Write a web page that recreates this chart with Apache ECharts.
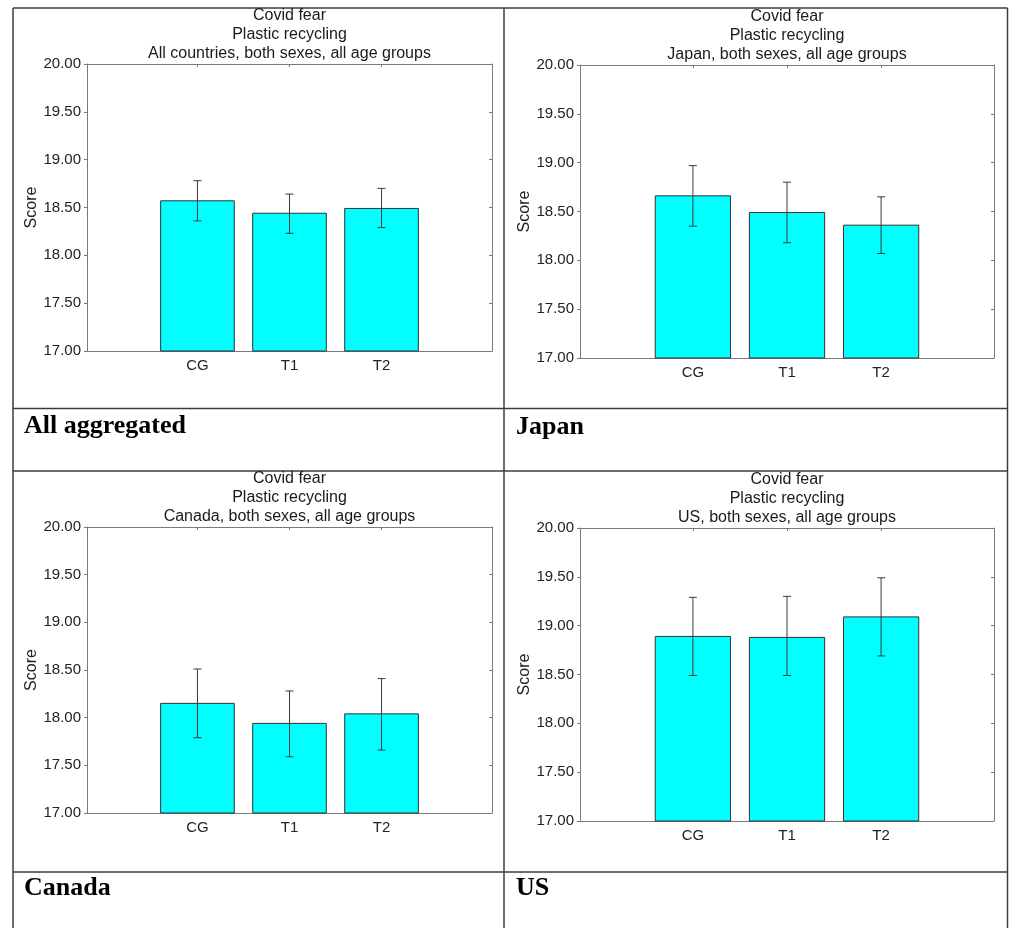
<!DOCTYPE html>
<html>
<head>
<meta charset="utf-8">
<title>Covid fear – Plastic recycling</title>
<script src="https://cdn.jsdelivr.net/npm/echarts@6/dist/echarts.min.js"></script>
<style>
  html, body { margin: 0; padding: 0; background: #ffffff; }
  #chart { width: 1011px; height: 928px; }
</style>
</head>
<body>
<div id="chart"></div>
<script>
// Treatment groups shown on every panel
const categories = ['CG', 'T1', 'T2'];

// Mean score and the ends of each error bar, per panel
const allMean  = [18.57, 18.44, 18.49];
const allLow   = [18.36, 18.23, 18.29];
const allHigh  = [18.78, 18.64, 18.70];

const japanMean = [18.66, 18.49, 18.36];
const japanLow  = [18.35, 18.18, 18.07];
const japanHigh = [18.97, 18.80, 18.65];

const canadaMean = [18.15, 17.94, 18.04];
const canadaLow  = [17.79, 17.59, 17.66];
const canadaHigh = [18.51, 18.28, 18.41];

const usMean = [18.89, 18.88, 19.09];
const usLow  = [18.49, 18.49, 18.69];
const usHigh = [19.29, 19.30, 19.49];

// Text
const titleLines = ['Covid fear', 'Plastic recycling'];
const subtitles = [
  'All countries, both sexes, all age groups',
  'Japan, both sexes, all age groups',
  'Canada, both sexes, all age groups',
  'US, both sexes, all age groups'
];
const panelNames = ['All aggregated', 'Japan', 'Canada', 'US'];
const yTicks = { min: 17, max: 20, step: 0.5 };
const yName = 'Score';

// Panel geometry (plot rectangles, title and caption anchors)
const layout = [
  { grid: { left: 87,  top: 64,  width: 405, height: 287 }, titleY: 6.5,   capX: 24,  capY: 426 },
  { grid: { left: 580, top: 65,  width: 414, height: 293 }, titleY: 7.2,   capX: 516, capY: 427 },
  { grid: { left: 87,  top: 527, width: 405, height: 286 }, titleY: 469.5, capX: 24,  capY: 888 },
  { grid: { left: 580, top: 528, width: 414, height: 293 }, titleY: 470,   capX: 516, capY: 888 }
];

const panelData = [
  [allMean, allLow, allHigh],
  [japanMean, japanLow, japanHigh],
  [canadaMean, canadaLow, canadaHigh],
  [usMean, usLow, usHigh]
];

const SANS = '"Liberation Sans", Arial, sans-serif';
const SERIF = '"Liberation Serif", "Times New Roman", serif';
const frameColor = '#7a7a7a';
const inkColor = '#222222';
const catPos = categories.map((c, i) => i + 1);

const grids = [], xAxes = [], yAxes = [], series = [], graphics = [];

layout.forEach((L, p) => {
  grids.push(Object.assign({ containLabel: false, show: false }, L.grid));

  // bottom axis with group labels
  xAxes.push({
    type: 'value', gridIndex: p, position: 'bottom', min: -0.2, max: 4.2,
    axisLine: { show: true, onZero: false, lineStyle: { color: frameColor, width: 1 } },
    axisTick: { show: true, inside: true, length: 4, customValues: catPos, lineStyle: { color: frameColor } },
    axisLabel: {
      show: true, customValues: catPos, margin: 7,
      fontFamily: SANS, fontSize: 15, color: inkColor,
      formatter: v => categories[Math.round(v) - 1] || ''
    },
    splitLine: { show: false }
  });
  // top frame edge
  xAxes.push({
    type: 'value', gridIndex: p, position: 'top', min: -0.2, max: 4.2,
    axisLine: { show: true, onZero: false, lineStyle: { color: frameColor, width: 1 } },
    axisTick: { show: true, inside: true, length: 3, customValues: catPos, lineStyle: { color: frameColor } },
    axisLabel: { show: false },
    splitLine: { show: false }
  });
  // left value axis
  yAxes.push({
    type: 'value', gridIndex: p, position: 'left',
    min: yTicks.min, max: yTicks.max, interval: yTicks.step,
    name: yName, nameLocation: 'middle', nameGap: 47, nameRotate: 90,
    nameTextStyle: { fontFamily: SANS, fontSize: 16, color: inkColor },
    axisLine: { show: true, onZero: false, lineStyle: { color: frameColor, width: 1 } },
    axisTick: { show: true, inside: false, length: 3, lineStyle: { color: frameColor } },
    axisLabel: {
      margin: 6, fontFamily: SANS, fontSize: 15, color: inkColor,
      formatter: v => v.toFixed(2)
    },
    splitLine: { show: false }
  });
  // right frame edge
  yAxes.push({
    type: 'value', gridIndex: p, position: 'right',
    min: yTicks.min, max: yTicks.max, interval: yTicks.step,
    axisLine: { show: true, onZero: false, lineStyle: { color: frameColor, width: 1 } },
    axisTick: { show: true, inside: true, length: 3, lineStyle: { color: frameColor } },
    axisLabel: { show: false },
    splitLine: { show: false }
  });

  const [mean, low, high] = panelData[p];
  series.push({
    type: 'custom',
    xAxisIndex: 2 * p,
    yAxisIndex: 2 * p,
    clip: false,
    encode: { x: 0, y: 1 },
    data: categories.map((c, i) => [catPos[i], mean[i], low[i], high[i]]),
    renderItem: (params, api) => {
      const x = api.value(0), v = api.value(1), lo = api.value(2), hi = api.value(3);
      const tl = api.coord([x - 0.4, v]);
      const br = api.coord([x + 0.4, yTicks.min]);
      const top = api.coord([x, hi]);
      const bot = api.coord([x, lo]);
      const cap = 4;
      const errStyle = { stroke: '#3a3a3a', lineWidth: 1 };
      return {
        type: 'group',
        children: [
          {
            type: 'rect',
            shape: { x: tl[0], y: tl[1], width: br[0] - tl[0], height: br[1] - tl[1] },
            style: { fill: '#00ffff', stroke: '#333333', lineWidth: 1 }
          },
          { type: 'line', shape: { x1: top[0], y1: top[1], x2: bot[0], y2: bot[1] }, style: errStyle },
          { type: 'line', shape: { x1: top[0] - cap, y1: top[1], x2: top[0] + cap, y2: top[1] }, style: errStyle },
          { type: 'line', shape: { x1: bot[0] - cap, y1: bot[1], x2: bot[0] + cap, y2: bot[1] }, style: errStyle }
        ]
      };
    }
  });

  // three-line heading centred over the plot
  graphics.push({
    type: 'text',
    x: L.grid.left + L.grid.width / 2,
    y: L.titleY,
    style: {
      text: titleLines.concat([subtitles[p]]).join('\n'),
      align: 'center', verticalAlign: 'top',
      fontFamily: SANS, fontSize: 16, lineHeight: 19, fill: '#1a1a1a'
    },
    z: 10
  });
  // caption cell
  graphics.push({
    type: 'text',
    x: L.capX, y: L.capY,
    style: {
      text: panelNames[p], align: 'left', verticalAlign: 'middle',
      fontFamily: SERIF, fontSize: 26, fontWeight: 'bold', fill: '#000000'
    },
    z: 10
  });
});

// table rules around the four panels
const rule = { stroke: '#3c3c3c', lineWidth: 1.5 };
const hLine = (y, x1, x2) => ({ type: 'line', shape: { x1, y1: y, x2, y2: y }, style: rule, z: 5 });
const vLine = (x, y1, y2) => ({ type: 'line', shape: { x1: x, y1, x2: x, y2 }, style: rule, z: 5 });
graphics.push(
  hLine(8, 13, 1007.5),
  hLine(408.5, 13, 1007.5),
  hLine(471, 13, 1007.5),
  hLine(872, 13, 1007.5),
  vLine(13, 8, 928),
  vLine(504, 8, 928),
  vLine(1007.5, 8, 928)
);

const chart = echarts.init(document.getElementById('chart'), null, { renderer: 'canvas' });
chart.setOption({
  backgroundColor: '#ffffff',
  animation: false,
  grid: grids,
  xAxis: xAxes,
  yAxis: yAxes,
  series: series,
  graphic: graphics
});
</script>
</body>
</html>
